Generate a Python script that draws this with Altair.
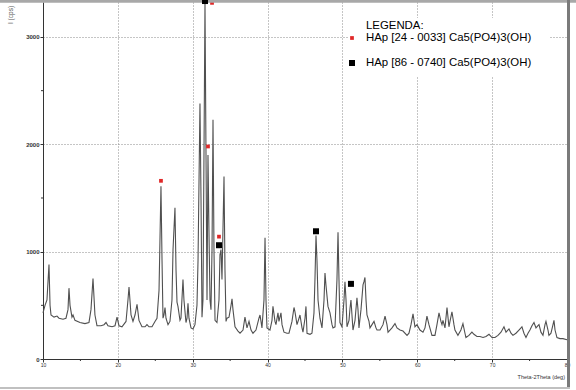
import altair as alt
import pandas as pd

# --- XRD trace (2-theta in degrees, intensity in counts) ---
two_theta = [
    10.0, 10.27, 10.53, 10.80, 10.94, 11.07, 11.47, 11.87, 12.14, 12.67,
    13.07, 13.34, 13.47, 13.61, 13.87, 14.01, 14.27, 14.94, 15.61, 16.14,
    16.41, 16.68, 16.94, 17.21, 17.75, 18.15, 18.42, 18.68, 19.22, 19.62,
    19.89, 20.15, 20.55, 21.09, 21.35, 21.49, 21.76, 22.02, 22.29, 22.56,
    22.82, 23.22, 23.63, 23.89, 24.16, 24.56, 24.96, 25.23, 25.50, 25.76,
    25.90, 26.03, 26.16, 26.30, 26.43, 26.70, 26.96, 27.23, 27.37, 27.63,
    27.77, 27.90, 28.03, 28.30, 28.43, 28.70, 28.83, 29.10, 29.24, 29.37,
    29.50, 29.77, 30.04, 30.30, 30.57, 30.71, 30.97, 31.11, 31.24, 31.37,
    31.51, 31.64, 31.77, 31.91, 32.04, 32.17, 32.31, 32.44, 32.58, 32.71,
    32.84, 32.98, 33.24, 33.51, 33.64, 33.78, 33.91, 34.04, 34.18, 34.31,
    34.45, 34.58, 34.85, 35.12, 35.25, 35.38, 35.65, 36.05, 36.32, 36.72,
    36.98, 37.25, 37.52, 37.79, 38.05, 38.45, 38.85, 38.99, 39.12, 39.25,
    39.52, 39.66, 39.79, 39.92, 40.32, 40.59, 40.72, 40.99, 41.12, 41.39,
    41.52, 41.79, 41.93, 42.19, 42.59, 42.86, 43.26, 43.53, 43.66, 43.93,
    44.20, 44.33, 44.60, 44.73, 45.00, 45.13, 45.27, 45.67, 45.93, 46.20,
    46.33, 46.47, 46.60, 46.74, 47.00, 47.27, 47.54, 47.67, 47.80, 48.07,
    48.34, 48.61, 48.74, 49.01, 49.27, 49.41, 49.54, 49.67, 49.94, 50.21,
    50.34, 50.48, 50.61, 50.88, 51.01, 51.14, 51.41, 51.68, 51.94, 52.08,
    52.21, 52.48, 52.75, 52.88, 53.01, 53.15, 53.28, 53.55, 53.68, 53.95,
    54.22, 54.48, 54.62, 55.02, 55.42, 55.69, 55.95, 56.09, 56.35, 56.62,
    57.02, 57.29, 57.69, 58.09, 58.63, 58.89, 59.16, 59.43, 59.69, 59.96,
    60.36, 60.76, 61.03, 61.29, 61.56, 61.96, 62.36, 62.63, 62.90, 63.16,
    63.30, 63.43, 63.70, 63.97, 64.23, 64.37, 64.63, 64.90, 65.03, 65.43,
    65.83, 66.10, 66.37, 66.50, 66.90, 67.30, 67.57, 67.97, 68.37, 68.78,
    69.18, 69.58, 69.98, 70.38, 70.78, 71.18, 71.58, 71.85, 72.25, 72.52,
    72.78, 73.18, 73.58, 73.98, 74.25, 74.52, 74.79, 75.05, 75.32, 75.59,
    75.86, 76.12, 76.26, 76.52, 76.79, 77.06, 77.19, 77.46, 77.59, 77.86,
    78.13, 78.26, 78.40, 78.66, 79.06, 79.46, 80.0,
]
intensity = [
    430, 500, 550, 880, 500, 410, 390, 400, 380, 370,
    380, 460, 660, 500, 390, 410, 360, 340, 330, 340,
    460, 750, 410, 310, 310, 320, 340, 310, 300, 310,
    390, 310, 300, 350, 550, 670, 410, 350, 410, 510,
    360, 300, 300, 320, 300, 300, 350, 380, 640, 1610,
    920, 380, 410, 480, 380, 320, 350, 550, 1020, 1410,
    830, 530, 490, 360, 380, 740, 550, 340, 380, 520,
    380, 290, 280, 320, 500, 920, 2380, 1480, 390, 550,
    1950, 3320, 1950, 550, 1900, 1200, 550, 460, 1020, 2230,
    1020, 360, 340, 550, 970, 1020, 740, 1200, 1700, 830,
    350, 380, 390, 500, 560, 460, 300, 260, 240, 270,
    390, 290, 350, 270, 240, 270, 380, 410, 350, 290,
    550, 1130, 550, 290, 270, 360, 490, 350, 320, 430,
    350, 430, 320, 250, 240, 240, 350, 480, 440, 320,
    380, 410, 290, 250, 380, 490, 240, 230, 240, 430,
    740, 1150, 920, 550, 380, 290, 550, 800, 690, 490,
    430, 320, 290, 300, 740, 1180, 740, 340, 300, 550,
    720, 550, 300, 360, 470, 550, 270, 360, 570, 460,
    290, 460, 690, 720, 760, 550, 410, 350, 290, 320,
    350, 290, 270, 270, 320, 400, 320, 250, 270, 290,
    330, 290, 270, 260, 220, 240, 320, 420, 300, 320,
    270, 250, 290, 400, 320, 220, 220, 320, 430, 350,
    320, 360, 290, 480, 300, 350, 440, 320, 270, 220,
    270, 330, 240, 200, 220, 250, 230, 210, 210, 200,
    210, 230, 200, 200, 220, 250, 300, 250, 280, 240,
    220, 240, 270, 300, 240, 200, 240, 270, 310, 340,
    290, 310, 320, 250, 220, 320, 350, 270, 220, 240,
    320, 360, 270, 200, 190, 190, 180,
]

# --- phase markers ---
red_x = [25.76, 32.04, 32.58, 33.51]          # HAp [24 - 0033]
red_y = [1660, 1980, 3318, 1140]
black_x = [31.64, 33.51, 46.47, 51.14]        # HAp [86 - 0740]
black_y = [3335, 1060, 1190, 700]

legend_title = "LEGENDA:"
legend_labels = ["HAp [24 - 0033] Ca5(PO4)3(OH)", "HAp [86 - 0740] Ca5(PO4)3(OH)"]

x_ticks = [10, 20, 30, 40, 50, 60, 70, 80]
y_ticks = [0, 1000, 2000, 3000]
x_minor = [15, 25, 35, 45, 55, 65, 75]
y_minor = [500, 1500, 2500]
x_title = "Theta-2Theta (deg)"
y_title = "I (cps)"

W, H = 524, 357
RED = "#e02828"
FONT = "Liberation Sans"

xs = alt.Scale(domain=[10, 80], nice=False, zero=False)
ys = alt.Scale(domain=[0, 3326], nice=False, zero=False)

x_axis = alt.Axis(values=x_ticks, grid=True, gridDash=[1, 2], gridColor="#8a8a8a",
                  gridWidth=1, labelFontSize=5, labelPadding=0, tickSize=3,
                  title=None, labelFlush=False, format="d")
y_axis = alt.Axis(values=y_ticks, grid=True, gridDash=[1, 2], gridColor="#8a8a8a",
                  gridWidth=1, labelFontSize=6, labelPadding=1, tickSize=3,
                  title=None, format="d", labelFontWeight="bold")

trace_df = pd.DataFrame({"t": two_theta, "i": intensity})
red_df = pd.DataFrame({"t": red_x, "i": red_y})
black_df = pd.DataFrame({"t": black_x, "i": black_y})
xminor_df = pd.DataFrame({"t": x_minor})
yminor_df = pd.DataFrame({"i": y_minor})
one = pd.DataFrame({"k": [0]})

trace = alt.Chart(trace_df).mark_line(color="#505050", strokeWidth=1.1, interpolate="linear").encode(
    x=alt.X("t:Q", scale=xs, axis=x_axis),
    y=alt.Y("i:Q", scale=ys, axis=y_axis),
)

xminor = alt.Chart(xminor_df).mark_rule(color="#333", strokeWidth=1).encode(
    x=alt.X("t:Q", scale=xs), y=alt.value(H), y2=alt.value(H + 2))
yminor = alt.Chart(yminor_df).mark_rule(color="#333", strokeWidth=1).encode(
    y=alt.Y("i:Q", scale=ys), x=alt.value(-2), x2=alt.value(0))

legend_box = alt.Chart(one).mark_rect(color="white").encode(
    x=alt.value(305), x2=alt.value(506), y=alt.value(16), y2=alt.value(75))

red_pts = alt.Chart(red_df).mark_square(color=RED, size=14, opacity=1).encode(
    x=alt.X("t:Q", scale=xs), y=alt.Y("i:Q", scale=ys))
black_pts = alt.Chart(black_df).mark_square(color="black", size=36, opacity=1).encode(
    x=alt.X("t:Q", scale=xs), y=alt.Y("i:Q", scale=ys))

leg_t0 = alt.Chart(one).mark_text(text=legend_title, font=FONT, fontSize=11.4, align="left",
                                  baseline="middle", color="black").encode(
    x=alt.value(323), y=alt.value(24))
leg_t1 = alt.Chart(one).mark_text(text=legend_labels[0], font=FONT, fontSize=11.4, align="left",
                                  baseline="middle", color="black").encode(
    x=alt.value(323), y=alt.value(36))
leg_t2 = alt.Chart(one).mark_text(text=legend_labels[1], font=FONT, fontSize=11.4, align="left",
                                  baseline="middle", color="black").encode(
    x=alt.value(323), y=alt.value(61))
leg_m1 = alt.Chart(one).mark_square(color=RED, size=14, opacity=1).encode(
    x=alt.value(309), y=alt.value(36))
leg_m2 = alt.Chart(one).mark_square(color="black", size=36, opacity=1).encode(
    x=alt.value(309), y=alt.value(61))

xtitle = alt.Chart(one).mark_text(text=x_title, font=FONT, fontSize=5.5, align="right",
                                  baseline="middle", color="#333").encode(
    x=alt.value(522), y=alt.value(375))
ytitle = alt.Chart(one).mark_text(text=y_title, font=FONT, fontSize=6.5, align="left",
                                  baseline="middle", angle=270, color="#555").encode(
    x=alt.value(-32), y=alt.value(22))

top_line = alt.Chart(one).mark_rule(color="#a8a8a8", strokeWidth=3).encode(
    x=alt.value(-43), x2=alt.value(W + 9), y=alt.value(-0.8))
right_line = alt.Chart(one).mark_rule(color="#7a7a7a", strokeWidth=3).encode(
    x=alt.value(W + 1.5), y=alt.value(-2), y2=alt.value(386))
bottom_line = alt.Chart(one).mark_rule(color="#c0c0c0", strokeWidth=2).encode(
    x=alt.value(-43), x2=alt.value(W + 3), y=alt.value(386))

chart = alt.layer(
    trace, xminor, yminor, legend_box, red_pts, top_line, black_pts,
    leg_t0, leg_t1, leg_t2, leg_m1, leg_m2, xtitle, ytitle, right_line, bottom_line,
).properties(
    width=W, height=H,
    padding={"left": 43, "top": 2, "right": 9, "bottom": 31},
    autosize=alt.AutoSizeParams(type="none"),
    background="white",
).configure_view(stroke=None).configure_axis(
    domainColor="#333", tickColor="#333", labelColor="#333", labelFont=FONT, domainWidth=1,
)

chart.save("out.html", embed_options={"renderer": "svg", "actions": False})
